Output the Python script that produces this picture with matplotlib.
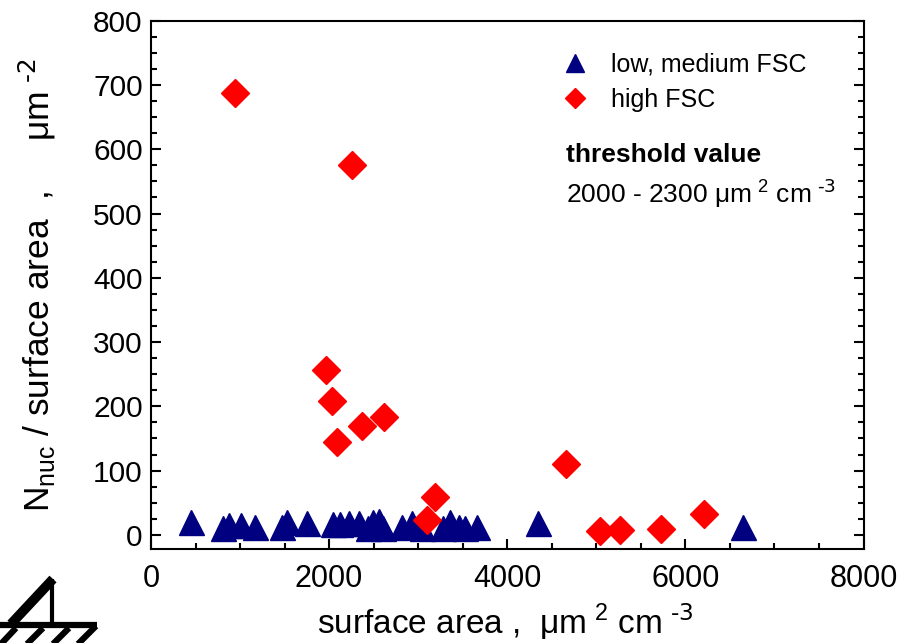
import numpy as np
import matplotlib
matplotlib.use("Agg")
import matplotlib.pyplot as plt
from matplotlib.lines import Line2D
from matplotlib.ticker import MultipleLocator

plt.rcParams['font.family'] = ['Liberation Sans', 'DejaVu Sans']
plt.rcParams['mathtext.default'] = 'regular'

# low / medium FSC (triangles)
low_x = [446, 813, 880, 1008, 1169, 1468, 1525, 1750, 2049, 2124, 2218, 2330,
         2441, 2498, 2565, 2610, 2816, 2929, 3040, 3284, 3360, 3453, 3528, 3660,
         4348, 6650]
low_y = [20, 10, 15, 16, 12, 12, 20, 18, 17, 17, 18, 18,
         11, 20, 22, 11, 13, 18, 11, 11, 20, 13, 11, 13,
         18, 13]

# high FSC (diamonds)
high_x = [944, 2258, 1966, 2034, 2090, 2371, 2618, 3191, 3101, 4663, 5045, 5270,
          5730, 6213]
high_y = [688, 576, 257, 208, 145, 170, 184, 59, 23, 110, 6, 8, 9, 33]

xticks = [0, 2000, 4000, 6000, 8000]
yticks = [0, 100, 200, 300, 400, 500, 600, 700, 800]

W, H = 897, 643
fig = plt.figure(figsize=(W / 100, H / 100), dpi=100)
ax = fig.add_axes([151 / W, 1 - 549 / H, 712.5 / W, 528.3 / H])

ax.plot(low_x, low_y, linestyle='none', marker='^', ms=18, color='#000080',
        mec='#000080', label='low, medium FSC')
ax.plot(high_x, high_y, linestyle='none', marker='D', ms=14, color='#ff0000',
        mec='#ff0000', label='high FSC')

ax.set_xlim(0, 8000)
ax.set_ylim(-22, 800)
ax.set_xticks(xticks)
ax.set_yticks(yticks)
ax.xaxis.set_minor_locator(MultipleLocator(500))
ax.yaxis.set_minor_locator(MultipleLocator(25))
ax.tick_params(which='both', direction='in', width=1.5, right=True, top=False)
ax.tick_params(which='major', length=7)
ax.tick_params(which='minor', length=4)
ax.tick_params(axis='y', labelsize=21.5, pad=6)
ax.tick_params(axis='x', labelsize=22, pad=11)
for lab in ax.get_xticklabels():
    lab.set_family(['Liberation Sans Narrow', 'Liberation Sans'])
for s in ax.spines.values():
    s.set_linewidth(1.5)

ax.set_xlabel(r"surface area ,  μm$^{\ 2}$ cm$^{\ \text{-3}}$", fontsize=24,
              va='baseline')
ax.xaxis.set_label_coords(0.497, -0.16)
ax.set_ylabel(r"N$_{nuc}$ / surface area  ,     μm$^{\ \text{-2}}$", fontsize=25.5,
              va='baseline')
ax.yaxis.set_label_coords(-0.142, 0.5)

ax.legend(loc='upper left', bbox_to_anchor=(0.577, 0.94), frameon=False,
          fontsize=18, markerscale=0.72, handlelength=1, handletextpad=0.95,
          borderaxespad=0, borderpad=0, labelspacing=0.45)

ax.text(0.5825, 0.7325, "threshold value", transform=ax.transAxes,
        fontsize=19, fontweight='bold', va='baseline')
ax.text(0.5825, 0.655, r"2000 - 2300 μm$^{\ 2}$ cm$^{\ \text{-3}}$",
        transform=ax.transAxes, fontsize=19, va='baseline')

# institute logo, bottom left
def px(x, y):
    return x / W, 1 - y / H

logo = [
    ((53, 579), (11, 624), 7),
    ((52, 579), (52, 624), 3),
    ((0, 625), (97, 625), 4.5),
    ((16, 628), (0, 645), 4.5),
    ((43, 628), (26, 645), 4.5),
    ((69, 628), (52, 645), 4.5),
    ((96, 626), (77, 645), 4.5),
]
for p0, p1, lw in logo:
    (x0, y0), (x1, y1) = px(*p0), px(*p1)
    fig.add_artist(Line2D([x0, x1], [y0, y1], color='black', lw=lw,
                          transform=fig.transFigure, solid_capstyle='butt'))

fig.savefig("out.png", dpi=100)
